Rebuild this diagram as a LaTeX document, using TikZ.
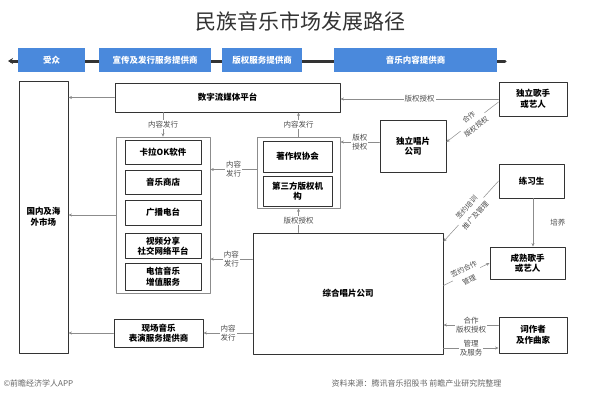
\documentclass[tikz,border=0pt]{standalone}
\usepackage{fontspec}
\setmainfont{Noto Sans CJK SC}
\usetikzlibrary{arrows.meta}
\definecolor{barblue}{HTML}{4A89DC}
\begin{document}
\begin{tikzpicture}[x=1pt,y=-1pt,line cap=round,line join=round,
	box/.style={draw=black!80,line width=0.9pt,fill=white,align=center,font=\fontsize{8.5}{10.5}\selectfont\bfseries},
	grp/.style={draw=black!45,line width=0.6pt},
	stage/.style={fill=barblue,text=white,minimum height=24pt,font=\fontsize{8.5}{10}\selectfont\bfseries},
	lbl/.style={fill=white,inner sep=1pt,align=center,text=black!70,font=\fontsize{7.5}{9}\selectfont},
	slbl/.style={lbl,sloped,font=\fontsize{7}{12}\selectfont},
	conn/.style={draw=black!45,line width=0.5pt,-{Stealth[length=3.5pt,width=3pt]}}]
	\useasboundingbox (0,0) rectangle (594,400);
	% title
	\node[text=black!80,font=\fontsize{21}{24}\selectfont] (title) at (300,21) {民族音乐市场发展路径};
	% top stages
	\coordinate (barL) at (8,61);
	\coordinate (barR) at (505,61);
	\draw[line width=3pt,black!80,{Stealth[length=5pt,width=6pt]}-] (barL) -- (barR);
	\node[stage,minimum width=67pt] (aud) at (51.5,60) {受众};
	\node[stage,minimum width=112pt] (promo) at (155,60) {宣传及发行服务提供商};
	\node[stage,minimum width=80pt] (copy) at (262,60) {版权服务提供商};
	\node[stage,minimum width=163pt] (content) at (415.5,60) {音乐内容提供商};
	% audience side
	\node[box,minimum width=49pt,minimum height=272pt] (mkt) at (43.5,217) {国内及海\\外市场};
	\node[box,minimum width=225pt,minimum height=29pt] (plat) at (227.5,97.5) {数字流媒体平台};
	\node[grp,minimum width=94pt,minimum height=156pt] (grpA) at (163,215) {};
	\node[box,minimum width=76pt,minimum height=24pt] (ka) at (163,152) {卡拉OK软件};
	\node[box,minimum width=76pt,minimum height=24pt] (shop) at (163,182) {音乐商店};
	\node[box,minimum width=76pt,minimum height=25pt] (radio) at (163,212.5) {广播电台};
	\node[box,minimum width=76pt,minimum height=24pt] (video) at (163,246) {视频分享\\社交网络平台};
	\node[box,minimum width=76pt,minimum height=27pt] (tele) at (163,276.5) {电信音乐\\增值服务};
	\node[box,minimum width=89pt,minimum height=28pt] (live) at (158.5,333) {现场音乐\\表演服务提供商};
	% copyright side
	\node[grp,minimum width=83pt,minimum height=71pt] (grpB) at (298.5,172.5) {};
	\node[box,minimum width=69pt,minimum height=31pt] (soc) at (297.5,156.5) {著作权协会};
	\node[box,minimum width=69pt,minimum height=30pt] (third) at (297.5,191) {第三方版权机\\构};
	% content side
	\node[box,minimum width=66pt,minimum height=52pt] (indlab) at (413,146) {独立唱片\\公司};
	\node[box,minimum width=68pt,minimum height=34pt] (indsing) at (533,99) {独立歌手\\或艺人};
	\node[box,minimum width=65pt,minimum height=34pt] (trainee) at (531.5,181) {练习生};
	\node[box,minimum width=75pt,minimum height=32pt] (mature) at (527.5,263) {成熟歌手\\或艺人};
	\node[box,minimum width=190pt,minimum height=121pt] (major) at (348,293.5) {综合唱片公司};
	\node[box,minimum width=68pt,minimum height=36pt] (lyric) at (533,335) {词作者\\及作曲家};
	% flows
	\draw[conn] (plat.west) -- (plat.west -| mkt.east);
	\draw[conn] (grpA.west) -- (grpA.west -| mkt.east);
	\draw[conn] (live.west) -- (live.west -| mkt.east);
	\draw[conn] (plat.south -| grpA.north) -- node[lbl]{内容发行} (grpA.north);
	\draw[conn] (grpB.north) -- node[lbl]{内容发行} (grpB.north |- plat.south);
	\draw[conn] (major.north -| grpB.south) -- node[lbl]{版权授权} (grpB.south);
	\draw[conn] ([yshift=3pt]grpB.west) -- node[lbl]{内容\\发行} ([yshift=3pt]grpB.west -| grpA.east);
	\draw[conn] (major.west |- video.south) -- node[lbl]{内容\\发行} (grpA.east |- video.south);
	\draw[conn] (major.west |- live.east) -- node[lbl]{内容\\发行} (live.east);
	\draw[conn] ([yshift=4pt]indlab.west) -- node[lbl]{版权\\授权} ([yshift=4pt]indlab.west -| grpB.east);
	\draw[conn] (indsing.west) -- node[lbl]{版权授权} (indsing.west -| plat.east);
	\draw[conn] ([yshift=-3pt]indsing.west) -- node[slbl]{合作\\版权授权} ([yshift=4pt]indlab.east);
	\draw[conn] (trainee.west) -- node[slbl]{签约培训\\推广及管理} ([yshift=-9pt]major.north east);
	\draw[conn] ([yshift=8pt]major.east) -- node[slbl]{签约合作\\管理} (mature.west);
	\draw[conn] (trainee.south -| lyric.north) -- node[lbl,right=16pt]{培养} (mature.north -| lyric.north);
	\draw[conn] ([yshift=10pt]lyric.west) -- node[lbl]{合作\\版权授权} ([yshift=10pt]lyric.west -| major.east);
	\draw[conn] ([yshift=-13pt]lyric.west -| major.east) -- node[lbl]{管理\\及服务} ([yshift=-13pt]lyric.west);
	% footer
	\node[anchor=west,text=black!60,font=\fontsize{8}{9}\selectfont] (brand) at (0,383) {©前瞻经济学人APP};
	\node[anchor=west,text=black!60,font=\fontsize{8}{9}\selectfont] (src) at (328,383) {资料来源：腾讯音乐招股书 前瞻产业研究院整理};
\end{tikzpicture}
\end{document}
